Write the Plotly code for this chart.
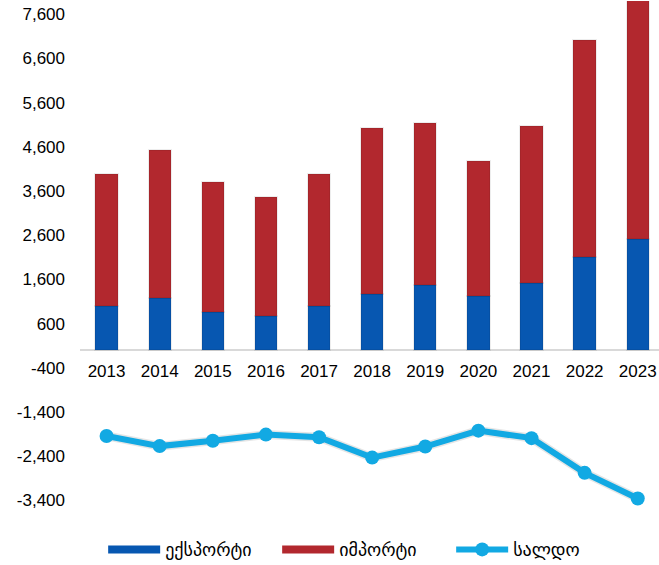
import plotly.graph_objects as go

years = ["2013", "2014", "2015", "2016", "2017", "2018", "2019", "2020", "2021", "2022", "2023"]
export_vals = [995, 1170, 867, 770, 995, 1282, 1471, 1222, 1531, 2119, 2511]
import_vals = [2980, 3355, 2941, 2692, 2987, 3748, 3672, 3054, 3537, 4895, 5867]
saldo_vals = [-1940, -2170, -2050, -1910, -1970, -2430, -2180, -1820, -1990, -2775, -3356]

y_ticks = [-3400, -2400, -1400, -400, 600, 1600, 2600, 3600, 4600, 5600, 6600, 7600]
y_ticktext = ["-3,400", "-2,400", "-1,400", "-400", "600", "1,600", "2,600", "3,600",
              "4,600", "5,600", "6,600", "7,600"]

names = ["ექსპორტი", "იმპორტი", "სალდო"]
blue = "#0757B1"
red = "#B2282E"
cyan = "#12A9E3"

font = "Liberation Sans, Arial, DejaVu Sans, sans-serif"

fig = go.Figure()

# bars (legend shown through dummy line entries below)
fig.add_trace(go.Bar(x=years, y=export_vals, marker=dict(color=blue, line=dict(color="rgba(0,0,0,0.07)", width=2)),
                     showlegend=False, name=names[0]))
fig.add_trace(go.Bar(x=years, y=import_vals, marker=dict(color=red, line=dict(color="rgba(0,0,0,0.07)", width=2)),
                     showlegend=False, name=names[1]))

# legend entries with wide colour strips like the original
fig.add_trace(go.Scatter(x=[None], y=[None], mode="lines", line=dict(color=blue, width=8), name=names[0]))
fig.add_trace(go.Scatter(x=[None], y=[None], mode="lines", line=dict(color=red, width=8), name=names[1]))

# saldo line with a soft shadow
fig.add_trace(go.Scatter(x=years, y=saldo_vals, mode="lines", line=dict(color="rgba(0,0,0,0.10)", width=9),
                         showlegend=False, hoverinfo="skip"))
fig.add_trace(go.Scatter(x=years, y=saldo_vals, mode="lines+markers", name=names[2],
                         line=dict(color=cyan, width=6), marker=dict(color=cyan, size=14)))

fig.update_layout(
    barmode="stack",
    bargap=0.58,
    width=659,
    height=565,
    margin=dict(l=80, r=0, t=1, b=38, autoexpand=False),
    plot_bgcolor="white",
    paper_bgcolor="white",
    font=dict(family=font, size=17, color="black"),
    xaxis=dict(
        type="category",
        range=[-0.5, 10.4],
        anchor="free",
        position=4000 / 11900,
        showgrid=False,
        showline=False,
        ticks="",
        ticklabelstandoff=9,
        tickfont=dict(size=17),
    ),
    yaxis=dict(
        range=[-4000, 7900],
        tickvals=y_ticks,
        ticktext=y_ticktext,
        showgrid=False,
        zeroline=True,
        zerolinecolor="#d9d9d9",
        zerolinewidth=2,
        ticklabelstandoff=14,
        tickfont=dict(size=17),
    ),
    legend=dict(
        orientation="h",
        traceorder="normal",
        x=0.04,
        xanchor="left",
        y=-0.008,
        yanchor="top",
        itemwidth=52,
        entrywidth=107,
        font=dict(family="DejaVu Sans, sans-serif", size=18),
        bgcolor="rgba(0,0,0,0)",
    ),
)

fig.write_html("out.html", config={"displayModeBar": False},
               post_script="document.body.style.margin='0';document.body.style.overflow='hidden';")
